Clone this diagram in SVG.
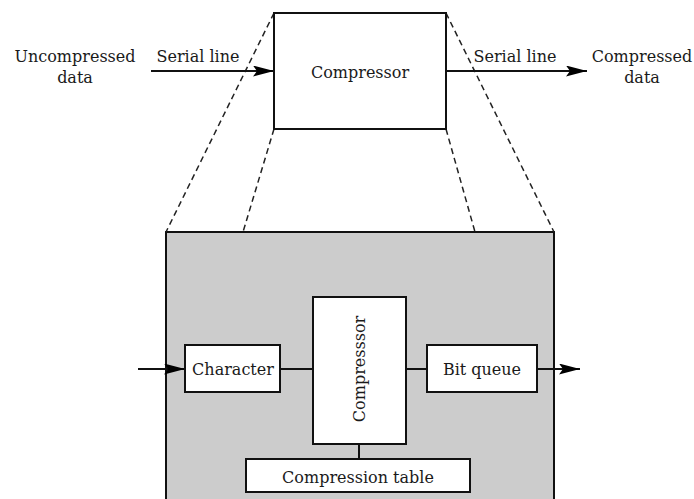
<svg xmlns="http://www.w3.org/2000/svg" width="694" height="499" viewBox="0 0 694 499">
<defs>
<marker id="arr" markerUnits="userSpaceOnUse" markerWidth="22" markerHeight="12" refX="21" refY="5.5" orient="auto">
<path d="M0,0 L21,5.5 L0,11 L4,5.5 Z" fill="#000"/>
</marker>
<style>
text{font-family:"DejaVu Serif","Liberation Serif",serif;font-size:16px;fill:#1a1a1a;text-anchor:middle}
.box{fill:#fff;stroke:#111;stroke-width:2}
.ln{stroke:#111;stroke-width:2;fill:none}
.dash{stroke:#222;stroke-width:1.5;stroke-dasharray:6,4;fill:none}
</style>
</defs>
<rect width="694" height="499" fill="#fff"/>
<g id="detail">
<rect x="166" y="232" width="388" height="280" fill="#cccccc" stroke="#111" stroke-width="2"/>
</g>
<g id="connectors">
<line class="dash" x1="274" y1="13" x2="166" y2="232"/>
<line class="dash" x1="274" y1="129" x2="243" y2="232"/>
<line class="dash" x1="446" y1="129" x2="475" y2="232"/>
<line class="dash" x1="446" y1="13" x2="554" y2="232"/>
<line class="ln" x1="151" y1="71" x2="274" y2="71" marker-end="url(#arr)"/>
<line class="ln" x1="446" y1="71" x2="587" y2="71" marker-end="url(#arr)"/>
<line class="ln" x1="138" y1="369" x2="185" y2="369" marker-end="url(#arr)"/>
<line class="ln" x1="280" y1="369" x2="313" y2="369"/>
<line class="ln" x1="406" y1="369" x2="427" y2="369"/>
<line class="ln" x1="537" y1="369" x2="580" y2="369" marker-end="url(#arr)"/>
<line class="ln" x1="359" y1="444" x2="359" y2="459"/>
</g>
<g id="compressor-top">
<rect class="box" x="274" y="13" width="172" height="116"/>
<text x="360" y="78">Compressor</text>
</g>
<g id="labels">
<text x="75" y="62">Uncompressed</text>
<text x="75" y="83">data</text>
<text x="198" y="62">Serial line</text>
<text x="515" y="62">Serial line</text>
<text x="642" y="62">Compressed</text>
<text x="642" y="83">data</text>
</g>
<g id="character">
<rect class="box" x="185" y="345" width="95" height="47"/>
<text x="233" y="375">Character</text>
</g>
<g id="compressor-inner">
<rect class="box" x="313" y="297" width="93" height="147"/>
<text transform="translate(365,369) rotate(-90)">Compresssor</text>
</g>
<g id="bit-queue">
<rect class="box" x="427" y="345" width="110" height="47"/>
<text x="482" y="375">Bit queue</text>
</g>
<g id="compression-table">
<rect class="box" x="246" y="459" width="224" height="33"/>
<text x="358" y="483">Compression table</text>
</g>
</svg>
